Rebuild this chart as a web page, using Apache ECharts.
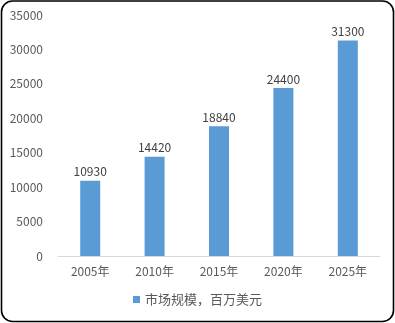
<!DOCTYPE html>
<html><head><meta charset="utf-8">
<script src="https://cdn.jsdelivr.net/npm/echarts@6/dist/echarts.min.js"></script>
<style>html,body{margin:0;padding:0;background:#fff}#c{width:395px;height:323px}</style>
</head><body><div id="c"></div>
<script>
const categories = ['2005年','2010年','2015年','2020年','2025年'];
const values = [10930, 14420, 18840, 24400, 31300];
const seriesName = '市场规模，百万美元';
const chart = echarts.init(document.getElementById('c'));
const font = '"Microsoft YaHei","Noto Sans CJK SC",sans-serif';
chart.setOption({
  animation:false,
  textStyle:{fontFamily:font},
  graphic:[{type:'rect',z:100,shape:{x:1.5,y:1,width:392,height:320.5,r:11},style:{fill:'none',stroke:'#000',lineWidth:1.6}}],
  grid:{left:58,right:15,top:15,bottom:67},
  legend:{bottom:12,left:'center',itemWidth:7,itemHeight:7,icon:'rect',itemGap:4,
    textStyle:{color:'#595959',fontSize:13,fontFamily:font},data:[seriesName]},
  xAxis:{type:'category',data:categories,
    axisLine:{lineStyle:{color:'#d9d9d9',width:1}},axisTick:{show:false},
    axisLabel:{color:'#595959',fontSize:12,margin:9,fontFamily:font}},
  yAxis:{type:'value',min:0,max:35000,interval:5000,
    axisLine:{show:false},axisTick:{show:false},splitLine:{show:false},
    axisLabel:{color:'#595959',fontSize:12,margin:15,fontFamily:font,formatter:v=>String(v)}},
  series:[{name:seriesName,type:'bar',data:values,barWidth:20,
    itemStyle:{color:'#5B9BD5'},
    label:{show:true,position:'top',color:'#404040',fontSize:12,distance:3,fontFamily:font}}]
});
</script></body></html>
